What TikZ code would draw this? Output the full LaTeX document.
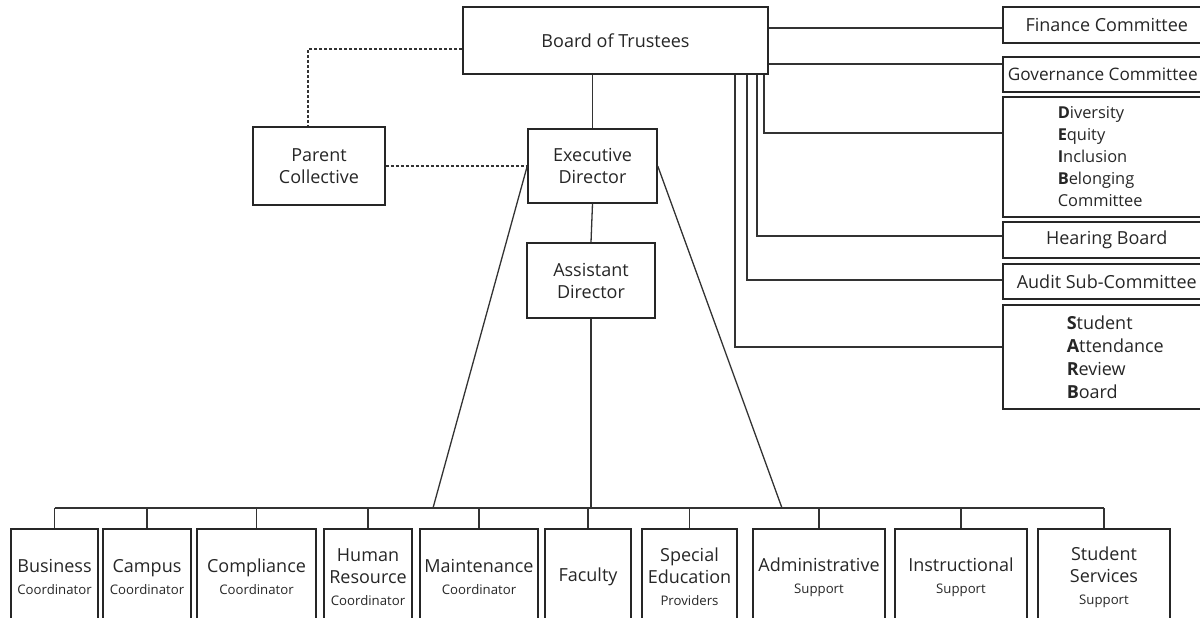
\documentclass[tikz,border=0pt]{standalone}
\usepackage{fontspec}
\setmainfont{Open Sans}
\usepackage{tikz}

\newcommand{\sm}[1]{{\fontsize{6.6}{9}\selectfont #1}}

\begin{document}
\begin{tikzpicture}[x=0.5pt,y=-0.5pt,
    box/.style={draw=black!85, line width=0.75pt, align=center, inner sep=0pt, text=black!85, font=\fontsize{9}{11}\selectfont},
    combox/.style={box, anchor=west, minimum width=104pt},
    unitbox/.style={box, anchor=north, minimum height=48pt},
    conn/.style={draw=black!80, line width=0.65pt},
    dashline/.style={conn, dash pattern=on 1.5pt off 1pt}]
    \useasboundingbox (0,0) rectangle (1200,617);
    \clip (0,0) rectangle (1200,617);

    \node[box, minimum width=152.5pt, minimum height=33.5pt] (board) at (615.5,40.5) {Board of Trustees};
    \node[box, minimum width=66pt, minimum height=39pt] (parent) at (319,166) {Parent\\Collective};
    \node[box, minimum width=64.5pt, minimum height=37pt] (exec) at (592.5,166) {Executive\\Director};
    \node[box, minimum width=64pt, minimum height=37.5pt] (asst) at (591,280.5) {Assistant\\Director};

    % committees on the right
    \node[combox, minimum height=18pt] (fin) at (1002,25) {Finance Committee};
    \node[combox, minimum width=100pt, minimum height=17.5pt, font=\fontsize{8.6}{11}\selectfont] (gov) at (1002,74.5) {Governance Committee};
    \node[combox, minimum width=0pt, minimum height=60pt, text width=49pt, inner xsep=27.5pt, align=left,
        font=\fontsize{8.2}{11}\selectfont] (deib) at (1002,157)
        {\textbf{D}iversity\\\textbf{E}quity\\\textbf{I}nclusion\\\textbf{B}elonging\\Committee};
    \node[combox, minimum height=18pt] (hear) at (1002,240) {Hearing Board};
    \node[combox, minimum height=17.5pt] (audit) at (1002,281.5) {Audit Sub-Committee};
    \node[combox, minimum width=0pt, minimum height=52pt, text width=50pt, inner xsep=32pt, align=left,
        font=\fontsize{9}{11.5}\selectfont] (sarb) at (1002,357)
        {\textbf{S}tudent\\\textbf{A}ttendance\\\textbf{R}eview\\\textbf{B}oard};

    % bottom row
    \node[unitbox, minimum width=43.5pt] (b1) at (54.5,528) {Business\\\sm{Coordinator}};
    \node[unitbox, minimum width=44pt] (b2) at (147,528) {Campus\\\sm{Coordinator}};
    \node[unitbox, minimum width=59.5pt] (b3) at (256.5,528) {Compliance\\\sm{Coordinator}};
    \node[unitbox, minimum width=44pt] (b4) at (368,528) {Human\\Resource\\\sm{Coordinator}};
    \node[unitbox, minimum width=59pt] (b5) at (479,528) {Maintenance\\\sm{Coordinator}};
    \node[unitbox, minimum width=43pt] (b6) at (588,528) {Faculty};
    \node[unitbox, minimum width=47.5pt] (b7) at (689.5,528) {Special\\Education\\\sm{Providers}};
    \node[unitbox, minimum width=66pt] (b8) at (819,528) {Administrative\\\sm{Support}};
    \node[unitbox, minimum width=66pt] (b9) at (961,528) {Instructional\\\sm{Support}};
    \node[unitbox, minimum width=66pt] (b10) at (1104,528) {Student\\Services\\\sm{Support}};

    \coordinate (bus) at (0,508);
    \coordinate (busL) at (433,508);
    \coordinate (busR) at (782,508);
    \coordinate (pc) at (308,49);

    \draw[conn] (board.south -| exec.north) -- (exec.north);
    \draw[conn] (exec.south) -- (asst.north);
    \draw[conn] (asst.south) -- (asst.south |- bus);
    \draw[conn] (exec.west) -- (busL);
    \draw[conn] (exec.east) -- (busR);
    \draw[conn] (b1.north |- bus) -- (b10.north |- bus);
    \foreach \i in {1,...,10}
        \draw[conn] (b\i.north) -- (b\i.north |- bus);

    \draw[dashline] (board.west |- pc) -- (pc) -- (pc |- parent.north);
    \draw[dashline] (parent.east) -- (exec.west);

    \draw[conn] (board.east |- 0,28) -- (fin.west |- 0,28);
    \draw[conn] (board.east |- 0,64) -- (gov.west |- 0,64);
    \foreach \x/\y/\n in {764/133/deib, 757/236/hear, 747/280/audit, 735/347/sarb}
        \draw[conn] (board.south -| \x,0) |- (\n.west |- 0,\y);
\end{tikzpicture}
\end{document}
